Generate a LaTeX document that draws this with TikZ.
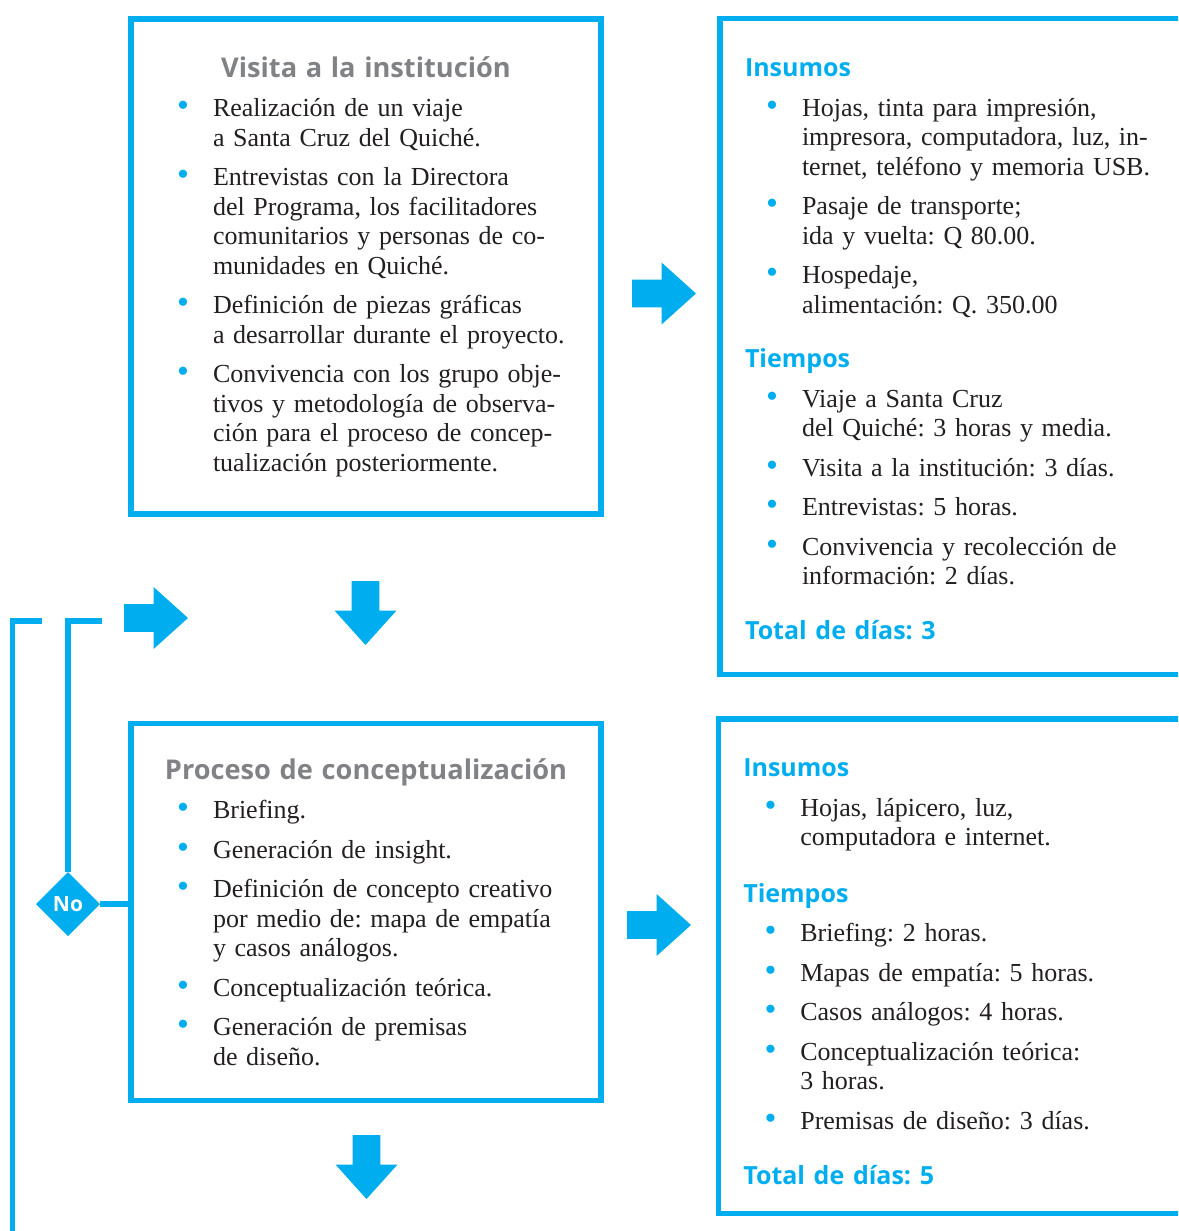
\documentclass[tikz,border=0pt]{standalone}
\usepackage{fontspec}
\setmainfont{Liberation Serif}
\newfontfamily\sansbold{Open Sans}
\usetikzlibrary{shapes.geometric,shapes.arrows,positioning,calc}
\definecolor{azul}{RGB}{0,174,239}
\definecolor{gris}{RGB}{128,130,133}
\definecolor{tinta}{RGB}{35,31,32}
\frenchspacing

% titulo centrado, secciones en azul y puntos con vineta
\newcommand{\titulo}[1]{\noindent\makebox[\hsize][c]{\sansbold\bfseries\fontsize{13.6}{15}\selectfont\color{gris}#1}\par}
\newcommand{\seccion}[2][0pt]{\par\vspace{#1}\noindent{\sansbold\bfseries\fontsize{12.5}{15}\selectfont\color{azul}#2}\par}
\newcommand{\punto}[1]{\par\vspace{5pt}\hangindent=28.5pt\noindent\makebox[28.5pt][l]{\hspace{10.6pt}\textcolor{azul}{\fontsize{17}{15}\selectfont\textbullet}}{\def\\{\newline}#1}\par}

\tikzset{
  caja/.style={rectangle,draw=azul,line width=2.75pt,minimum width=235pt,outer sep=0pt,inner sep=0pt,
    text width=210pt,align=left,text=tinta,font=\fontsize{13}{14.75}\selectfont},
  flecha/.style={single arrow,fill=azul,draw=none,minimum height=32pt,minimum width=30.5pt,
    single arrow head extend=8.5pt,single arrow tip angle=84,inner sep=6.75pt,outer sep=0pt,anchor=tail},
  linea/.style={draw=azul,line width=2.75pt},
  rombo/.style={diamond,fill=azul,text=white,minimum width=32pt,minimum height=32pt,inner sep=0pt,
    outer sep=0pt,font=\sansbold\bfseries\fontsize{10.5}{12}\selectfont}
}

\begin{document}
\begin{tikzpicture}[x=0.5pt,y=-0.5pt]
    \useasboundingbox (0,0) rectangle (1178,1231);
    \clip (0,0) rectangle (1178,1231);
    \node [caja,minimum height=247.5pt] (visita) at (366,266.5) {
      \titulo{Visita a la institución}
      \punto{Realización de un viaje\\a Santa Cruz del Quiché.}
      \punto{Entrevistas con la Directora\\del Programa, los facilitadores\\comunitarios y personas de co-\\munidades en Quiché.}
      \punto{Definición de piezas gráficas\\a desarrollar durante el proyecto.}
      \punto{Convivencia con los grupo obje-\\tivos y metodología de observa-\\ción para el proceso de concep-\\tualización posteriormente.}
    };
    \node [caja,minimum height=328.2pt,anchor=north west] (recursosVisita) at ([xshift=59.5pt,yshift=0.35pt]visita.north east) {
      \seccion{Insumos}
      \punto{Hojas, tinta para impresión,\\impresora, computadora, luz, in-\\ternet, teléfono y memoria USB.}
      \punto{Pasaje de transporte;\\ida y vuelta: Q 80.00.}
      \punto{Hospedaje,\\alimentación: Q. 350.00}
      \seccion[12.5pt]{Tiempos}
      \punto{Viaje a Santa Cruz\\del Quiché: 3 horas y media.}
      \punto{Visita a la institución: 3 días.}
      \punto{Entrevistas: 5 horas.}
      \punto{Convivencia y recolección de\\información: 2 días.}
      \seccion[12.5pt]{Total de días: 3}
      \par\vspace{3pt}
    };
    \node [caja,minimum height=188.5pt,below=104.75pt of visita] (proceso) {
      \titulo{Proceso de conceptualización}
      \punto{Briefing.}
      \punto{Generación de insight.}
      \punto{Definición de concepto creativo\\por medio de: mapa de empatía\\y casos análogos.}
      \punto{Conceptualización teórica.}
      \punto{Generación de premisas\\de diseño.}
    };
    \node [caja,minimum height=247.35pt,anchor=north west] (recursosProceso) at ([xshift=58.65pt,yshift=2.25pt]proceso.north east) {
      \seccion{Insumos}
      \punto{Hojas, lápicero, luz,\\computadora e internet.}
      \seccion[13.5pt]{Tiempos}
      \punto{Briefing: 2 horas.}
      \punto{Mapas de empatía: 5 horas.}
      \punto{Casos análogos: 4 horas.}
      \punto{Conceptualización teórica:\\3 horas.}
      \punto{Premisas de diseño: 3 días.}
      \seccion[13pt]{Total de días: 5}
    };
    \node [flecha] (flechaVisita) at (632,293.5) {};
    \node [flecha,shape border rotate=270] (flechaAbajo) at (365.5,581) {};
    \node [flecha] (flechaRetorno) at (124,618) {};
    \node [flecha] (flechaProceso) at (627,925) {};
    \node [flecha,shape border rotate=270] (flechaFinal) at (366.5,1135) {};
    \node [rombo] (no) at (68,904) {No};
    \coordinate (retornoNo) at (102,621);
    \coordinate (retornoA) at (42,621);
    \coordinate (retornoB) at (12.5,1240);
    \draw [linea] (retornoNo) -| (no.north);
    \draw [linea] (no.east) -- (no.east -| proceso.west);
    \draw [linea] (retornoA) -| (retornoB);
  \end{tikzpicture}
\end{document}
